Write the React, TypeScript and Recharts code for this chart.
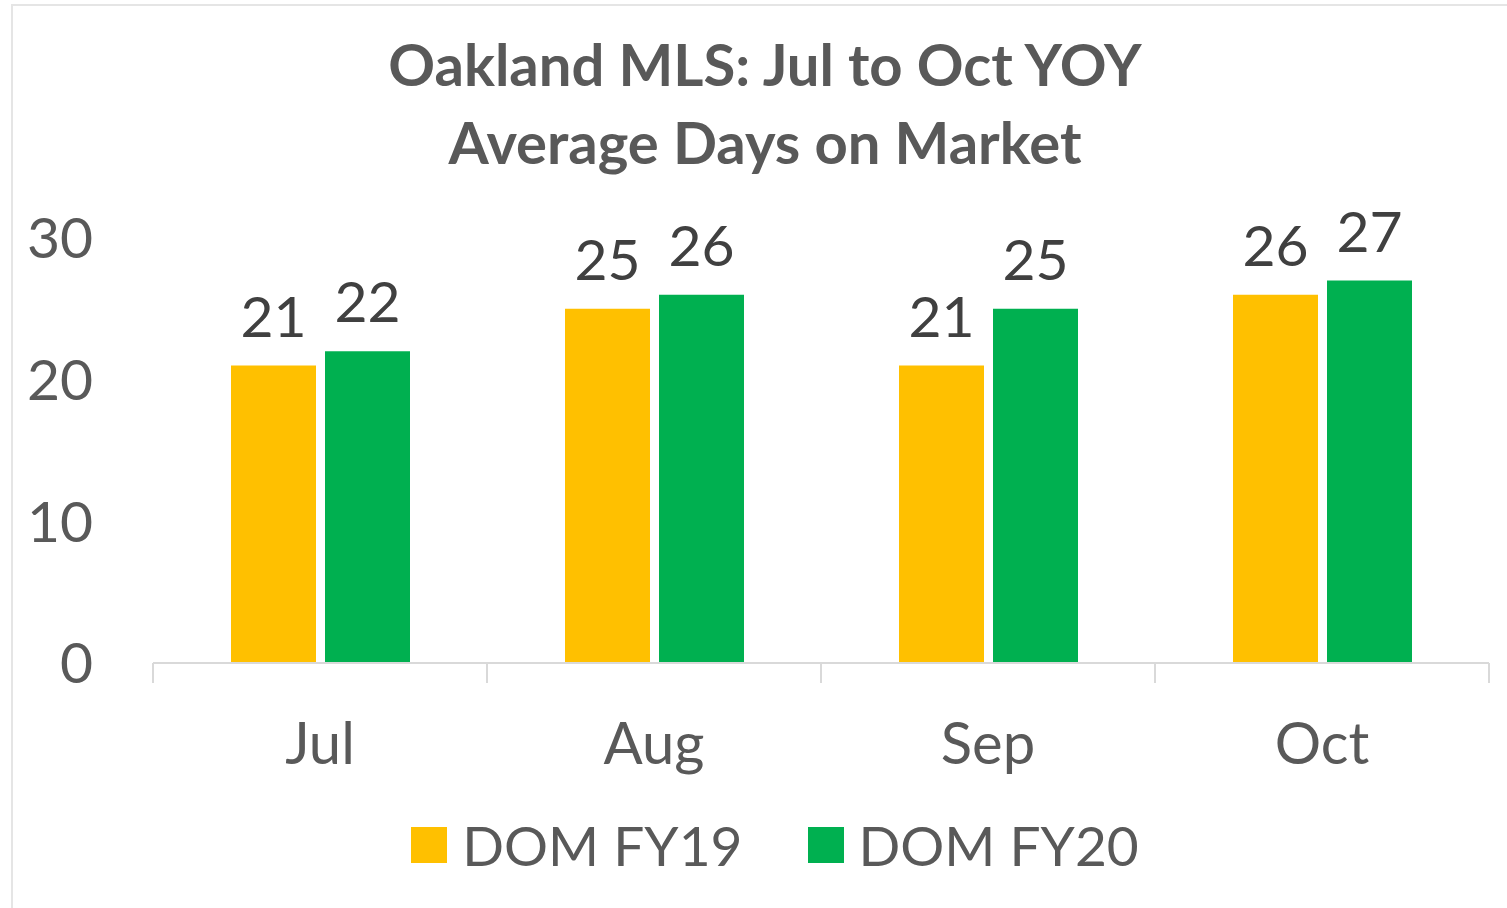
import React from "react";
import { BarChart, Bar, XAxis, YAxis, Legend, LabelList } from "recharts";

const months = ["Jul", "Aug", "Sep", "Oct"];
const domFY19 = [21, 25, 21, 26];
const domFY20 = [22, 26, 25, 27];
const yTicks = [0, 10, 20, 30];

const titleLines = ["Oakland MLS: Jul to Oct YOY", "Average Days on Market"];

const FONT = "Lato, 'Open Sans', sans-serif";
const TEXT = "#595959";
const YELLOW = "#FFC000";
const GREEN = "#00B050";
const AXIS = "#d9d9d9";
const LABEL_GAP = 60;
const EDGE_TICK = 20;

const data = months.map((m, i) => ({
  month: m,
  fy19: domFY19[i],
  fy20: domFY20[i],
}));

// month label plus the Excel-style tick marks on the category edges
const MonthTick = (props: any) => {
  const { x, y, payload, index, visibleTicksCount, width } = props;
  const band = width / visibleTicksCount;
  const axisY = y - LABEL_GAP;
  const last = index === visibleTicksCount - 1;
  return (
    <g>
      <line x1={x - band / 2} x2={x - band / 2} y1={axisY} y2={axisY + EDGE_TICK} stroke={AXIS} strokeWidth={2} />
      {last && (
        <line x1={x + band / 2} x2={x + band / 2} y1={axisY} y2={axisY + EDGE_TICK} stroke={AXIS} strokeWidth={2} />
      )}
      <text x={x} y={y} dy="0.71em" textAnchor="middle" fill={TEXT} fontSize={58} fontFamily={FONT}>
        {payload.value}
      </text>
    </g>
  );
};

const LegendContent = (props: any) => {
  const items = props.payload || [];
  return (
    <div
      style={{
        display: "flex",
        justifyContent: "center",
        alignItems: "center",
        height: 60,
        fontFamily: FONT,
        fontSize: 55,
        color: TEXT,
        paddingLeft: 43,
      }}
    >
      {items.map((it: any, i: number) => (
        <div
          key={it.value}
          style={{ display: "flex", alignItems: "center", marginLeft: i ? 65 : 0 }}
        >
          <span
            style={{ width: 36, height: 36, background: it.color, display: "inline-block", marginRight: 15 }}
          />
          <span>{it.value}</span>
        </div>
      ))}
    </div>
  );
};

export default function App() {
  return (
    <div
      style={{
        position: "absolute",
        left: 0,
        top: 0,
        width: 1507,
        height: 908,
        overflow: "hidden",
        background: "#fff",
      }}
    >
      <div
        style={{
          position: "absolute",
          left: 11,
          top: 4,
          width: 1600,
          height: 1000,
          borderTop: "2px solid #e5e5e5",
          borderLeft: "2px solid #e5e5e5",
        }}
      />
      <div
        style={{
          position: "absolute",
          left: 265,
          top: 25,
          width: 1000,
          textAlign: "center",
          fontFamily: FONT,
          fontWeight: 700,
          fontSize: 58,
          lineHeight: "78px",
          color: TEXT,
        }}
      >
        {titleLines.map((t) => (
          <div key={t}>{t}</div>
        ))}
      </div>
      <BarChart
        width={1507}
        height={908}
        data={data}
        margin={{ top: 238, right: 18, left: 0, bottom: 85 }}
        barGap={9}
        style={{ position: "absolute", left: 0, top: 0 }}
      >
        <XAxis
          dataKey="month"
          height={100}
          axisLine={{ stroke: AXIS, strokeWidth: 2 }}
          tickLine={false}
          tickSize={0}
          tickMargin={LABEL_GAP}
          tick={<MonthTick />}
        />
        <YAxis
          width={153}
          domain={[0, 30]}
          ticks={yTicks}
          axisLine={false}
          tickLine={false}
          tickSize={0}
          tickMargin={60}
          tick={{ fill: TEXT, fontSize: 57, fontFamily: FONT }}
        />
        <Legend
          verticalAlign="bottom"
          content={<LegendContent />}
          wrapperStyle={{ top: 815, left: 0, width: 1507 }}
        />
        <Bar dataKey="fy19" name="DOM FY19" fill={YELLOW} barSize={85} isAnimationActive={false}>
          <LabelList
            dataKey="fy19"
            position="top"
            offset={29}
            style={{ fill: "#404040", fontSize: 57, fontFamily: FONT }}
          />
        </Bar>
        <Bar dataKey="fy20" name="DOM FY20" fill={GREEN} barSize={85} isAnimationActive={false}>
          <LabelList
            dataKey="fy20"
            position="top"
            offset={29}
            style={{ fill: "#404040", fontSize: 57, fontFamily: FONT }}
          />
        </Bar>
      </BarChart>
    </div>
  );
}
